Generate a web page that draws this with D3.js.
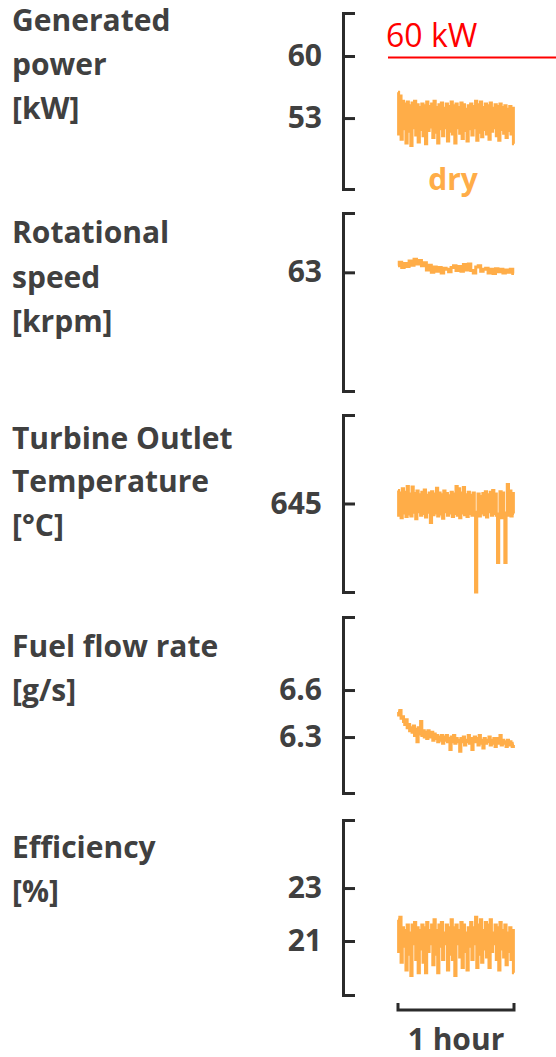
<!DOCTYPE html>
<html><head><meta charset="utf-8">
<script src="https://cdn.jsdelivr.net/npm/d3@7"></script>
<style>body{margin:0;background:#fff}svg{display:block}</style>
</head><body>
<svg id="chart" width="556" height="1057"></svg>
<script>
// ---- data ----
const panelTitles = [
  ["Generated", "power", "[kW]"],
  ["Rotational", "speed", "[krpm]"],
  ["Turbine Outlet", "Temperature", "[°C]"],
  ["Fuel flow rate", "[g/s]"],
  ["Efficiency", "[%]"]
];
const panelTicks = [[60, 53], [63], [645], [6.6, 6.3], [23, 21]];
const tickFormats = ["d", "d", "d", ".1f", "d"];
const panelDomains = [[45, 64.85], [59, 65], [630, 660], [5.943, 7.066], [18.96, 25.57]];
const timeMinutes = [0, 60];
const ratedPowerKW = 60;
const ratedLabel = "60 kW";
const seriesLabel = "dry";
const scaleBarLabel = "1 hour";

const power = [55.9, 51.2, 55.5, 50.6, 54.9, 51.8, 54.6, 50.2, 54.8, 51.5, 54.4, 49.9, 54.7, 51.9, 54.9, 51.1, 54.5, 50.3, 54.2, 51.7, 54.6, 51.0, 54.4, 50.1, 54.8, 51.6, 54.3, 52.0, 54.6, 50.8, 54.9, 51.4, 54.2, 50.2, 54.5, 51.8, 54.7, 51.0, 54.1, 51.9, 54.6, 50.4, 54.3, 51.5, 54.8, 51.2, 54.4, 50.2, 54.6, 51.9, 54.2, 51.3, 54.7, 50.7, 54.5, 51.6, 54.0, 50.4, 54.4, 51.8, 54.6, 51.1, 54.3, 51.9, 54.9, 50.5, 54.5, 51.4, 54.8, 50.9, 54.2, 51.7, 54.6, 51.2, 54.4, 50.6, 54.7, 51.5, 54.1, 51.9, 54.5, 51.0, 54.3, 50.5, 54.6, 51.7, 54.2, 51.3, 54.4, 50.8, 54.0, 51.6, 54.3, 51.2, 54.1, 50.1];
const speed = [63.22, 63.34, 63.16, 63.30, 63.20, 63.38, 63.24, 63.44, 63.28, 63.40, 63.22, 63.32, 63.08, 63.24, 63.00, 63.18, 63.04, 63.16, 62.98, 63.14, 63.10, 63.02, 63.16, 63.22, 63.06, 63.20, 63.04, 63.26, 63.08, 63.28, 63.06, 62.98, 63.18, 63.22, 63.04, 63.10, 63.14, 62.98, 63.10, 62.96, 63.12, 63.02, 63.10, 62.98, 63.08, 63.00, 63.10, 62.96];
const tot = [647.2, 643.0, 646.8, 642.6, 647.5, 643.4, 646.9, 642.8, 647.9, 643.2, 646.6, 642.9, 647.8, 643.5, 646.7, 642.4, 647.1, 643.6, 646.5, 643.0, 646.9, 643.3, 647.3, 642.7, 646.4, 643.5, 646.8, 641.8, 647.0, 643.1, 646.6, 643.4, 647.6, 642.9, 646.8, 643.2, 646.5, 642.5, 647.1, 643.6, 646.7, 643.0, 646.3, 643.4, 646.9, 642.8, 646.6, 643.3, 647.9, 643.0, 647.5, 642.6, 646.8, 643.4, 647.7, 643.1, 646.5, 642.8, 646.9, 643.3, 646.4, 643.0, 646.8, 643.5, 630.0, 643.2, 646.6, 642.9, 646.2, 643.4, 646.7, 643.1, 647.0, 642.7, 646.5, 643.6, 646.9, 643.0, 647.2, 643.3, 646.6, 643.0, 635.0, 643.2, 647.0, 642.6, 646.8, 643.4, 635.0, 643.1, 648.2, 643.0, 647.1, 642.9, 646.7, 643.3];
const fuel = [6.46, 6.44, 6.47, 6.42, 6.43, 6.40, 6.38, 6.41, 6.36, 6.38, 6.34, 6.36, 6.33, 6.37, 6.31, 6.35, 6.27, 6.36, 6.32, 6.40, 6.31, 6.34, 6.30, 6.33, 6.29, 6.34, 6.31, 6.30, 6.33, 6.28, 6.32, 6.29, 6.31, 6.27, 6.30, 6.28, 6.31, 6.26, 6.30, 6.28, 6.31, 6.27, 6.29, 6.22, 6.30, 6.27, 6.31, 6.26, 6.29, 6.27, 6.28, 6.21, 6.29, 6.27, 6.30, 6.25, 6.28, 6.27, 6.31, 6.26, 6.29, 6.22, 6.28, 6.30, 6.27, 6.29, 6.25, 6.31, 6.26, 6.28, 6.23, 6.29, 6.26, 6.28, 6.27, 6.30, 6.25, 6.28, 6.26, 6.29, 6.24, 6.27, 6.29, 6.26, 6.31, 6.25, 6.28, 6.26, 6.27, 6.24, 6.28, 6.25, 6.27, 6.26, 6.24, 6.25];
const efficiency = [21.8, 20.6, 21.9, 20.2, 21.5, 20.8, 21.4, 19.9, 21.6, 20.5, 21.3, 19.7, 21.6, 20.9, 21.7, 20.3, 21.5, 19.8, 21.4, 20.7, 21.6, 20.2, 21.5, 19.8, 21.7, 20.6, 21.4, 20.9, 21.6, 20.1, 21.8, 20.5, 21.4, 19.8, 21.6, 20.8, 21.7, 20.3, 21.3, 20.9, 21.6, 19.9, 21.5, 20.5, 21.8, 20.3, 21.5, 19.7, 21.6, 20.9, 21.4, 20.4, 21.7, 20.0, 21.6, 20.6, 21.3, 19.9, 21.5, 20.8, 21.7, 20.3, 21.5, 20.9, 21.9, 20.0, 21.6, 20.5, 21.8, 20.2, 21.4, 20.7, 21.7, 20.4, 21.6, 20.0, 21.8, 20.6, 21.3, 20.9, 21.6, 20.3, 21.5, 19.9, 21.7, 20.7, 21.4, 20.4, 21.6, 20.1, 21.3, 20.6, 21.5, 20.3, 21.4, 19.8];
const allSeries = [power, speed, tot, fuel, efficiency];

// ---- layout ----
const FONT = "'Open Sans', sans-serif";
const TXT = "#404040";
const AX = "#2b2b2b";
const ORANGE = "#ffad48";
const axisX = 343;
const panelRanges = [[189, 13], [391, 213], [592, 415], [793, 617], [995, 820]];
const titleBaselines = [[31, 75, 119], [243, 288, 332], [449, 492, 536], [657, 701], [858, 902]];

const svg = d3.select("#chart");
const x = d3.scaleLinear().domain(timeMinutes).range([398, 514]);

panelTitles.forEach((lines, i) => {
  const y = d3.scaleLinear().domain(panelDomains[i]).range(panelRanges[i]);

  // title
  const t = svg.append("text").attr("font-family", FONT).attr("font-weight", 700)
    .attr("font-size", 30).attr("fill", TXT);
  lines.forEach((l, j) => t.append("tspan").attr("x", 12).attr("y", titleBaselines[i][j]).text(l));

  // axis (bracket style)
  const axis = d3.axisLeft(y).tickValues(panelTicks[i]).tickFormat(d3.format(tickFormats[i]))
    .tickSizeInner(-12).tickSizeOuter(-12).tickPadding(21);
  const g = svg.append("g").attr("transform", `translate(${axisX},0)`).call(axis);
  g.select(".domain").attr("stroke", AX).attr("stroke-width", 3).attr("fill", "none");
  g.selectAll(".tick line").attr("stroke", AX).attr("stroke-width", 3);
  g.selectAll(".tick text").attr("font-family", FONT).attr("font-weight", 700)
    .attr("font-size", 30).attr("fill", TXT);

  // series
  const data = allSeries[i];
  const n = data.length;
  const line = d3.line()
    .x((d, k) => x(timeMinutes[0] + (timeMinutes[1] - timeMinutes[0]) * k / (n - 1)))
    .y(d => y(d))
    .curve(d3.curveStep);
  svg.append("path").datum(data).attr("d", line).attr("fill", "none")
    .attr("stroke", ORANGE).attr("stroke-width", 3).attr("stroke-linejoin", "miter");

  if (i === 0) {
    const yr = y(ratedPowerKW) + 1.5;
    svg.append("line").attr("x1", 388).attr("x2", 556).attr("y1", yr).attr("y2", yr)
      .attr("stroke", "#ff0000").attr("stroke-width", 2);
    svg.append("text").attr("x", 386).attr("y", 47).attr("font-family", FONT)
      .attr("font-size", 32).attr("fill", "#ff0000").text(ratedLabel);
    svg.append("text").attr("x", 453).attr("y", 190).attr("text-anchor", "middle")
      .attr("font-family", FONT).attr("font-weight", 700).attr("font-size", 30)
      .attr("fill", ORANGE).text(seriesLabel);
  }
});

// time scale bar
const barY = 1010;
svg.append("path")
  .attr("d", `M${x(timeMinutes[0])},${barY - 7}V${barY}H${x(timeMinutes[1])}V${barY - 7}`)
  .attr("fill", "none").attr("stroke", AX).attr("stroke-width", 3);
svg.append("text").attr("x", (x(timeMinutes[0]) + x(timeMinutes[1])) / 2).attr("y", 1050)
  .attr("text-anchor", "middle").attr("font-family", FONT).attr("font-weight", 700)
  .attr("font-size", 30).attr("fill", TXT).text(scaleBarLabel);
</script>
</body></html>
